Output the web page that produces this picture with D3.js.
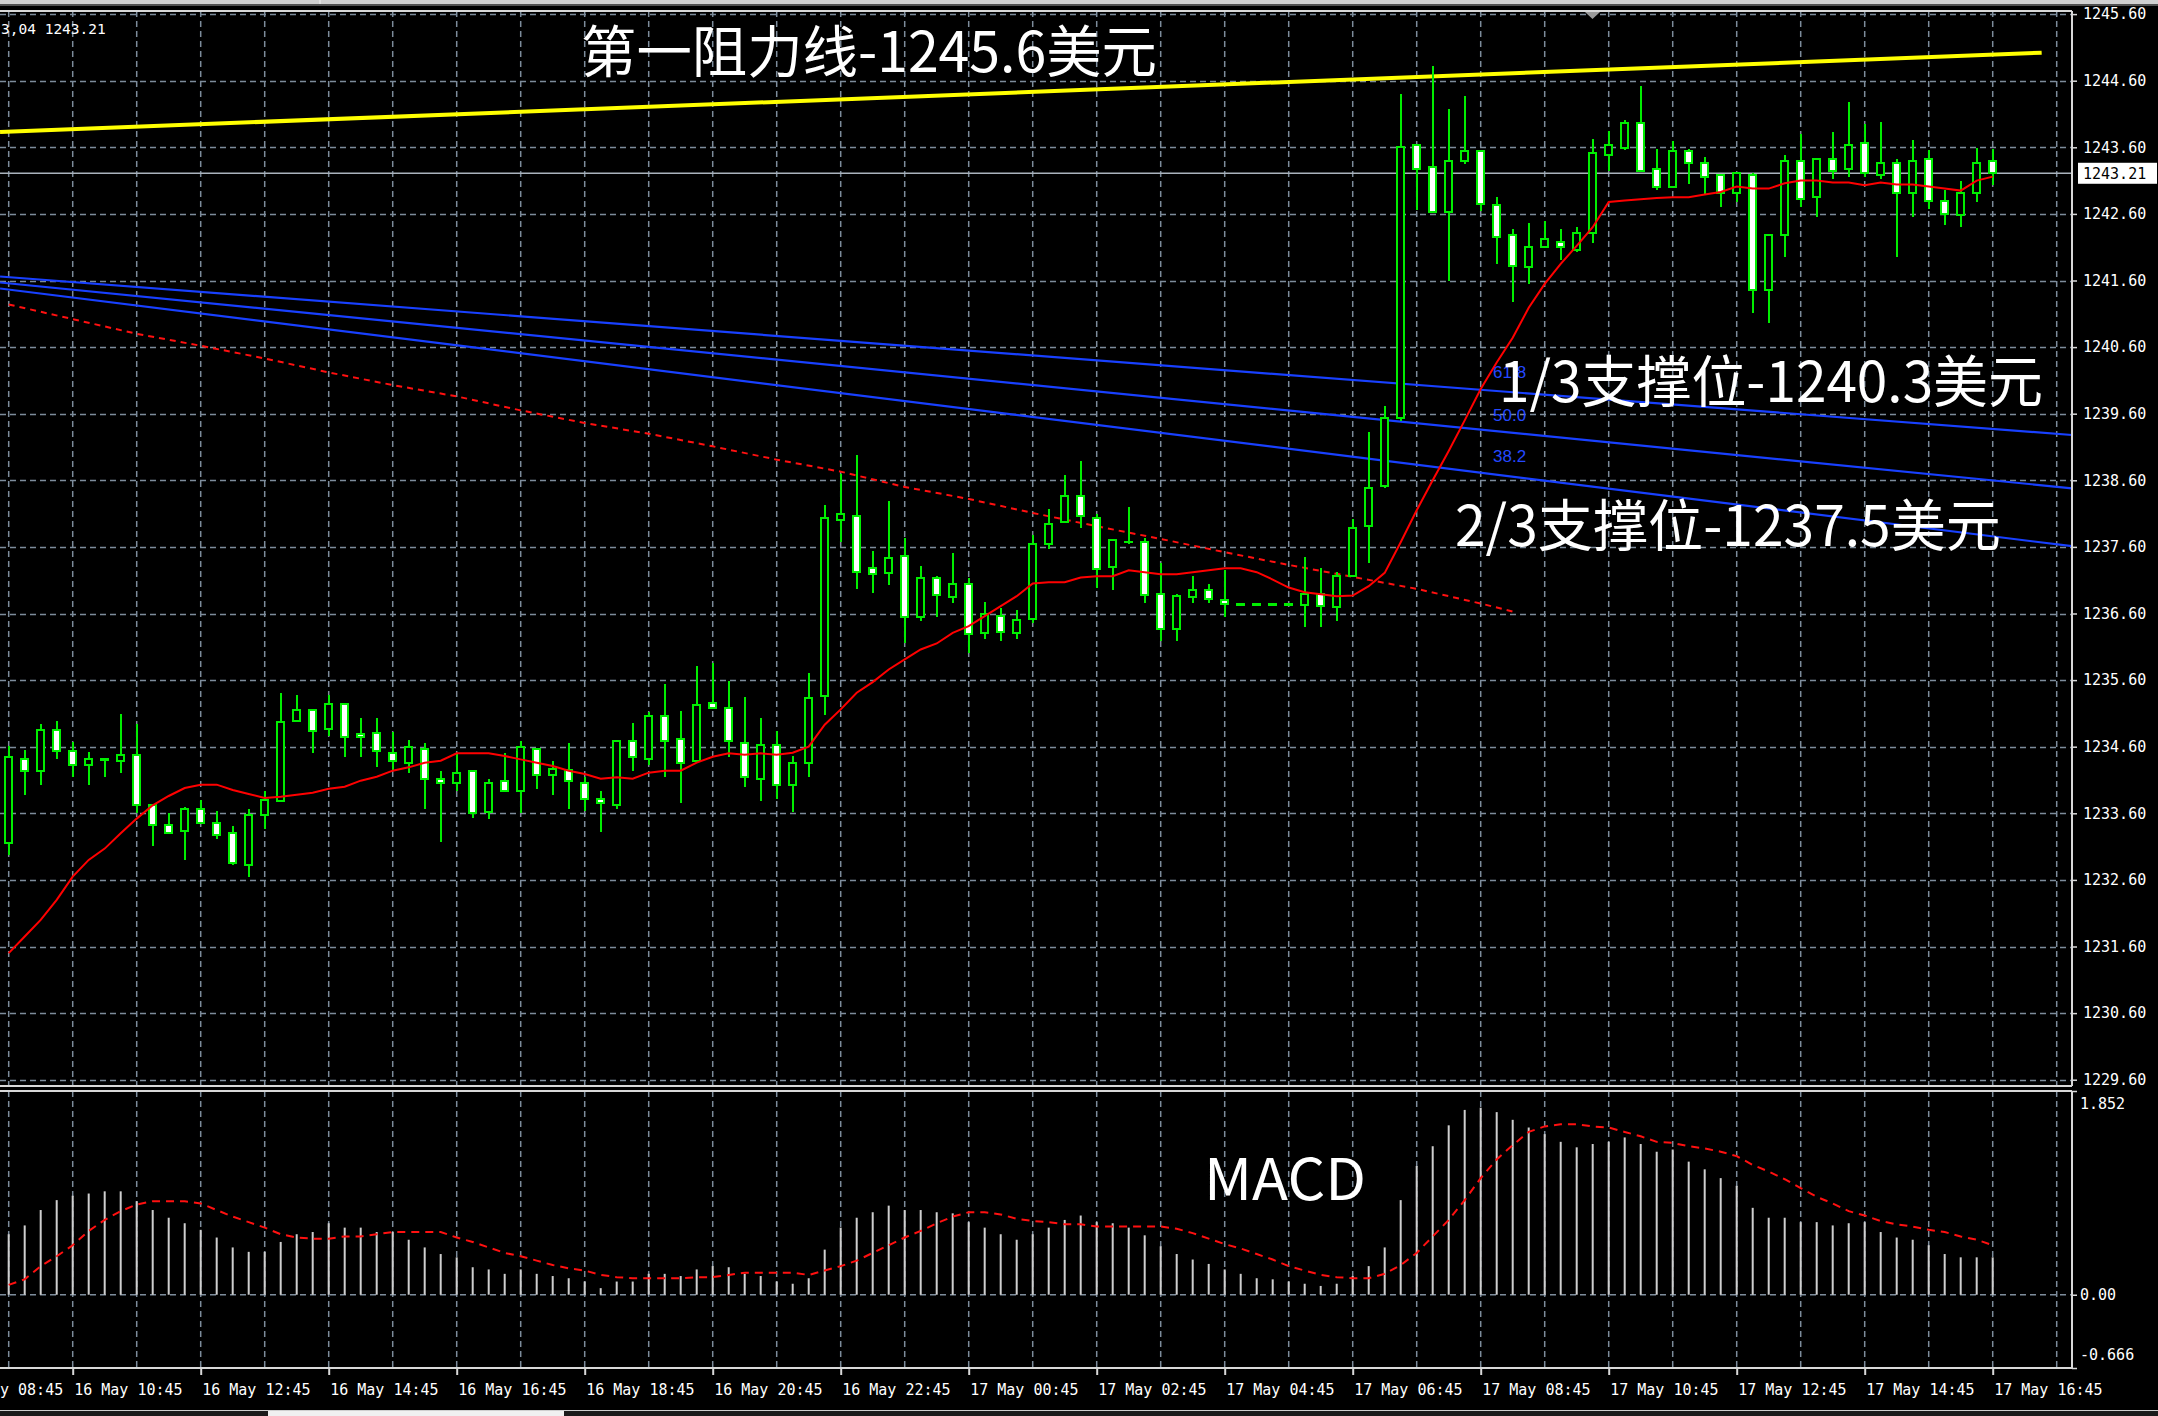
<!DOCTYPE html>
<html><head><meta charset="utf-8">
<script src="https://cdn.jsdelivr.net/npm/d3@7"></script>
<style>
html,body{margin:0;padding:0;background:#000;overflow:hidden;}
svg{display:block;}
</style></head><body>
<svg id="chart" width="2158" height="1416"></svg>
<script>
// ---------- DATA (15-minute bars, 16 May 09:45 .. 17 May 16:45) ----------
const open = [1233.16,1234.42,1234.24,1234.85,1234.54,1234.33,1234.42,1234.39,1234.48,1233.72,
1233.43,1233.33,1233.67,1233.46,1233.30,1232.82,1233.57,1233.78,1234.98,1235.15,
1234.86,1235.24,1234.79,1234.81,1234.51,1234.35,1234.57,1234.11,1234.06,1234.23,
1233.62,1234.08,1233.94,1234.56,1234.18,1234.25,1234.06,1233.81,1233.72,1234.69,
1234.41,1235.06,1234.71,1234.38,1235.26,1235.18,1234.65,1234.11,1234.63,1234.03,
1234.36,1235.36,1238.00,1238.07,1237.28,1237.21,1237.46,1236.55,1237.14,1236.85,
1237.04,1236.31,1236.56,1236.31,1236.52,1237.64,1237.97,1238.37,1238.04,1237.30,
1237.67,1237.68,1236.89,1236.37,1236.85,1236.95,1236.80,1236.74,1236.74,1236.74,
1236.74,1236.73,1236.89,1236.70,1237.16,1237.91,1238.52,1239.54,1243.63,1243.30,
1242.63,1243.39,1243.54,1242.73,1242.28,1241.80,1242.11,1242.18,1242.06,1242.31,
1243.48,1243.59,1243.97,1243.28,1243.00,1243.54,1243.36,1243.18,1242.92,1243.19,
1241.45,1242.28,1243.40,1242.86,1243.43,1243.27,1243.67,1243.19,1243.36,1242.92,
1243.42,1242.80,1242.58,1242.92,1243.40];
const high = [1234.61,1234.55,1234.94,1234.98,1234.67,1234.52,1234.42,1235.09,1234.94,1233.73,
1233.61,1233.70,1233.80,1233.64,1233.41,1233.67,1233.94,1235.40,1235.37,1235.15,
1235.37,1235.24,1235.03,1235.03,1234.82,1234.70,1234.66,1234.24,1234.50,1234.24,
1234.12,1234.51,1234.69,1234.56,1234.39,1234.66,1234.15,1233.94,1234.69,1234.96,
1235.12,1235.54,1235.14,1235.81,1235.86,1235.58,1235.34,1235.03,1234.83,1234.46,
1235.70,1238.23,1238.70,1238.98,1237.54,1238.29,1237.73,1237.32,1237.17,1237.51,
1237.14,1236.78,1236.69,1236.66,1237.78,1238.17,1238.68,1238.89,1238.09,1237.71,
1238.20,1237.73,1237.36,1236.90,1237.17,1237.05,1237.26,1236.74,1236.74,1236.74,
1236.74,1237.45,1237.29,1237.22,1238.02,1239.33,1239.71,1244.40,1243.64,1244.82,
1244.18,1244.37,1243.55,1242.86,1242.37,1242.47,1242.50,1242.37,1242.41,1243.73,
1243.84,1244.01,1244.52,1243.57,1243.70,1243.57,1243.45,1243.18,1243.22,1243.21,
1242.29,1243.49,1243.80,1243.43,1243.83,1244.28,1243.95,1243.98,1243.43,1243.71,
1243.56,1242.96,1243.10,1243.59,1243.58];
const low = [1232.97,1233.88,1234.02,1234.41,1234.14,1234.02,1234.14,1234.20,1233.60,1233.11,
1233.30,1232.90,1233.44,1233.21,1232.82,1232.64,1233.37,1233.78,1234.98,1234.50,
1234.76,1234.44,1234.44,1234.29,1234.25,1234.20,1233.66,1233.17,1233.93,1233.53,
1233.51,1233.94,1233.60,1233.96,1233.87,1233.66,1233.64,1233.32,1233.66,1234.23,
1234.33,1234.14,1233.75,1234.36,1235.18,1234.44,1233.99,1233.78,1233.81,1233.62,
1234.14,1235.07,1237.67,1236.97,1236.91,1237.03,1236.16,1236.49,1236.55,1236.76,
1236.01,1236.22,1236.19,1236.22,1236.45,1237.57,1237.97,1237.88,1236.99,1236.96,
1237.64,1236.76,1236.19,1236.19,1236.76,1236.76,1236.55,1236.74,1236.74,1236.74,
1236.74,1236.40,1236.40,1236.49,1237.15,1237.36,1238.48,1239.49,1242.66,1242.62,
1241.59,1243.35,1242.65,1241.85,1241.27,1241.55,1242.09,1241.91,1242.03,1242.17,
1243.24,1243.56,1243.24,1242.96,1242.99,1243.05,1242.90,1242.70,1242.78,1241.11,
1240.96,1241.95,1242.70,1242.55,1243.12,1243.15,1243.15,1243.12,1241.95,1242.55,
1242.67,1242.43,1242.40,1242.78,1243.04];
const close = [1234.45,1234.24,1234.85,1234.54,1234.33,1234.42,1234.40,1234.48,1233.72,1233.43,
1233.31,1233.67,1233.45,1233.27,1232.86,1233.58,1233.80,1234.97,1235.15,1234.84,
1235.24,1234.74,1234.75,1234.54,1234.39,1234.60,1234.12,1234.06,1234.21,1233.61,
1234.06,1233.94,1234.60,1234.18,1234.27,1234.09,1233.82,1233.76,1234.69,1234.45,
1235.06,1234.69,1234.36,1235.23,1235.18,1234.69,1234.14,1234.63,1234.03,1234.36,
1235.33,1238.03,1238.10,1237.23,1237.19,1237.44,1236.55,1237.14,1236.88,1237.05,
1236.29,1236.59,1236.32,1236.50,1237.65,1237.95,1238.37,1238.06,1237.27,1237.71,
1237.68,1236.88,1236.37,1236.86,1236.95,1236.82,1236.74,1236.74,1236.74,1236.74,
1236.74,1236.89,1236.71,1237.16,1237.89,1238.49,1239.54,1243.60,1243.28,1242.63,
1243.39,1243.55,1242.75,1242.25,1241.82,1242.10,1242.22,1242.10,1242.31,1243.51,
1243.63,1243.97,1243.24,1243.00,1243.54,1243.37,1243.15,1242.92,1243.21,1241.45,
1242.29,1243.40,1242.82,1243.43,1243.25,1243.63,1243.22,1243.37,1242.92,1243.40,
1242.80,1242.60,1242.92,1243.36,1243.21];
// short moving average (solid red)
const maShort = [1231.50,1231.75,1232.00,1232.30,1232.65,1232.90,1233.07,1233.30,1233.52,1233.72,
1233.86,1233.98,1234.03,1234.03,1233.95,1233.89,1233.83,1233.85,1233.88,1233.91,
1233.97,1234.00,1234.09,1234.15,1234.24,1234.29,1234.36,1234.39,1234.50,1234.50,
1234.50,1234.46,1234.41,1234.36,1234.31,1234.24,1234.19,1234.12,1234.14,1234.12,
1234.21,1234.24,1234.24,1234.36,1234.45,1234.50,1234.48,1234.50,1234.48,1234.51,
1234.60,1234.93,1235.16,1235.41,1235.57,1235.76,1235.91,1236.06,1236.15,1236.31,
1236.41,1236.56,1236.71,1236.86,1237.05,1237.07,1237.07,1237.14,1237.16,1237.16,
1237.25,1237.22,1237.19,1237.19,1237.22,1237.25,1237.28,1237.28,1237.22,1237.11,
1236.99,1236.92,1236.89,1236.86,1236.87,1237.01,1237.21,1237.67,1238.15,1238.60,
1239.04,1239.50,1239.97,1240.37,1240.74,1241.19,1241.55,1241.85,1242.12,1242.40,
1242.78,1242.80,1242.82,1242.84,1242.85,1242.85,1242.89,1242.93,1243.01,1242.98,
1242.98,1243.06,1243.10,1243.10,1243.07,1243.07,1243.03,1243.07,1243.04,1243.04,
1243.01,1242.98,1242.95,1243.10,1243.16];
// long moving average (dashed red), read at hourly bars
const maLongIdx = [0,4,8,12,16,20,24,28,32,36,40,44,48,52,56,60,64,68,72,76,80,84,88,92,94];
const maLongVal = [1241.24,1241.02,1240.80,1240.62,1240.43,1240.22,1240.03,1239.86,1239.65,1239.46,
1239.30,1239.11,1238.91,1238.73,1238.50,1238.32,1238.11,1237.91,1237.72,1237.52,
1237.33,1237.15,1236.97,1236.75,1236.63];
// MACD histogram and signal
const macdHist = [0.55,0.63,0.77,0.86,0.90,0.92,0.94,0.94,0.85,0.77,
0.70,0.65,0.59,0.52,0.43,0.39,0.39,0.48,0.55,0.57,
0.65,0.61,0.61,0.57,0.57,0.50,0.43,0.37,0.34,0.25,
0.23,0.19,0.23,0.19,0.17,0.15,0.12,0.06,0.12,0.12,
0.19,0.19,0.17,0.23,0.26,0.25,0.19,0.17,0.12,0.10,
0.15,0.41,0.61,0.70,0.75,0.81,0.77,0.77,0.75,0.74,
0.66,0.61,0.55,0.50,0.55,0.61,0.68,0.72,0.66,0.65,
0.61,0.54,0.44,0.37,0.32,0.28,0.23,0.19,0.15,0.14,
0.12,0.10,0.08,0.10,0.17,0.26,0.43,0.86,1.17,1.35,
1.54,1.68,1.70,1.66,1.59,1.52,1.46,1.39,1.34,1.37,
1.39,1.43,1.37,1.30,1.32,1.21,1.14,1.06,0.99,0.79,
0.70,0.70,0.66,0.66,0.63,0.65,0.66,0.57,0.52,0.50,
0.45,0.37,0.34,0.34,0.34];
const macdSignal = [0.09,0.14,0.26,0.35,0.45,0.58,0.68,0.76,0.82,0.85,
0.85,0.85,0.83,0.77,0.71,0.66,0.61,0.55,0.52,0.51,
0.51,0.53,0.53,0.55,0.57,0.57,0.57,0.57,0.52,0.48,
0.43,0.38,0.35,0.31,0.27,0.24,0.22,0.18,0.16,0.15,
0.15,0.15,0.15,0.16,0.16,0.18,0.20,0.20,0.20,0.20,
0.18,0.22,0.26,0.31,0.38,0.45,0.52,0.58,0.65,0.71,
0.75,0.75,0.73,0.69,0.67,0.66,0.64,0.64,0.62,0.62,
0.62,0.62,0.62,0.60,0.56,0.51,0.46,0.42,0.37,0.32,
0.26,0.22,0.18,0.16,0.15,0.15,0.19,0.27,0.38,0.53,
0.68,0.86,1.06,1.23,1.36,1.48,1.53,1.55,1.55,1.53,
1.52,1.48,1.44,1.39,1.38,1.35,1.33,1.30,1.26,1.18,
1.12,1.05,0.97,0.89,0.83,0.76,0.72,0.67,0.64,0.62,
0.59,0.57,0.53,0.50,0.45];
// drawn objects (bar index, price)
const resistanceLine = [[-0.54,1243.83],[127.06,1245.02]];
const fanLabels = ["61.8","50.0","38.2"];
const fanStart = [1241.66,1241.57,1241.48];
const fanEnd = [1239.28,1238.48,1237.61];
const fanIdx = [-0.54,128.96];
const bidPrice = 1243.21;
// axis labels
const priceTickLabels = ["1245.60","1244.60","1243.60","1242.60","1241.60","1240.60","1239.60","1238.60",
"1237.60","1236.60","1235.60","1234.60","1233.60","1232.60","1231.60","1230.60","1229.60"];
const macdTickLabels = ["1.852","0.00","-0.666"];
const timeTickIdx = [4,12,20,28,36,44,52,60,68,76,84,92,100,108,116,124];
const timeLabels = ["16 May 10:45","16 May 12:45","16 May 14:45","16 May 16:45",
"16 May 18:45","16 May 20:45","16 May 22:45","17 May 00:45","17 May 02:45","17 May 04:45",
"17 May 06:45","17 May 08:45","17 May 10:45","17 May 12:45","17 May 14:45","17 May 16:45"];
const firstLabelVisible = "y 08:45";   // visible tail of the scrolled-off "16 May 08:45" label
const annotations = ["第一阻力线-1245.6美元","1/3支撑位-1240.3美元","2/3支撑位-1237.5美元"];

// ---------- LAYOUT ----------
const W = 2158, H = 1416;
const plotR = 2072, mainTop = 11, mainBot = 1086, macdTop = 1091, macdBot = 1368;
const GREEN = "#00ee00", GRID = "#7d8c9b", BORDER = "#d8d8d8";

const svg = d3.select("#chart");
svg.append("rect").attr("width", W).attr("height", H).attr("fill", "#000");

const x = d3.scaleLinear().domain([0, 124]).range([8.7, 1992.7]);
const y = d3.scaleLinear().domain([1229.6, 1245.6]).range([1079.7, 14.1]);
const ym = d3.scaleLinear().domain([-0.666, 1.852]).range([macdBot, macdTop]);

const defs = svg.append("defs");
defs.append("clipPath").attr("id", "clipMain").append("rect")
  .attr("x", 0).attr("y", mainTop).attr("width", plotR).attr("height", mainBot - mainTop);
defs.append("clipPath").attr("id", "clipMacd").append("rect")
  .attr("x", 0).attr("y", macdTop).attr("width", plotR).attr("height", macdBot - macdTop);

// window frame strips
svg.append("rect").attr("x", 0).attr("y", 0).attr("width", W).attr("height", 4).attr("fill", "#d0d0d0");
svg.append("rect").attr("x", 0).attr("y", 4).attr("width", W).attr("height", 2).attr("fill", "#505050");
svg.append("line").attr("x1", 320).attr("x2", 320).attr("y1", 0).attr("y2", 4).attr("stroke", "#f4f4f4");

const main = svg.append("g").attr("clip-path", "url(#clipMain)");
const macd = svg.append("g").attr("clip-path", "url(#clipMacd)");

// grid
const gridIdx = d3.range(0, 129, 4);
const priceVals = priceTickLabels.map(Number);
main.selectAll("line.hg").data(priceVals).join("line").attr("class", "hg")
  .attr("x1", 0).attr("x2", plotR).attr("y1", d => Math.round(y(d)) + 0.5).attr("y2", d => Math.round(y(d)) + 0.5)
  .attr("stroke", GRID).attr("stroke-width", 1.5).attr("stroke-dasharray", "6,4");
main.selectAll("line.vg").data(gridIdx).join("line").attr("class", "vg")
  .attr("x1", d => x(d)).attr("x2", d => x(d)).attr("y1", mainTop).attr("y2", mainBot)
  .attr("stroke", GRID).attr("stroke-width", 1.5).attr("stroke-dasharray", "6,4");
macd.selectAll("line.vg").data(gridIdx).join("line").attr("class", "vg")
  .attr("x1", d => x(d)).attr("x2", d => x(d)).attr("y1", macdTop).attr("y2", macdBot)
  .attr("stroke", GRID).attr("stroke-width", 1.5).attr("stroke-dasharray", "6,4");
macd.append("line").attr("x1", 0).attr("x2", plotR).attr("y1", ym(0)).attr("y2", ym(0))
  .attr("stroke", GRID).attr("stroke-width", 1.5).attr("stroke-dasharray", "6,4");

// bid line
main.append("line").attr("x1", 0).attr("x2", plotR).attr("y1", y(bidPrice)).attr("y2", y(bidPrice))
  .attr("stroke", "#aab3bd").attr("stroke-width", 1.3);

// long MA (dashed)
const lineIdx = d3.line().x(d => x(d[0])).y(d => y(d[1]));
main.append("path").datum(maLongIdx.map((d, i) => [d, maLongVal[i]]))
  .attr("d", lineIdx).attr("fill", "none").attr("stroke", "#ff1010").attr("stroke-width", 2)
  .attr("stroke-dasharray", "6,5");

// fibonacci fan lines
fanLabels.forEach((lab, k) => {
  main.append("path").datum([[fanIdx[0], fanStart[k]], [fanIdx[1], fanEnd[k]]])
    .attr("d", lineIdx).attr("fill", "none").attr("stroke", "#1840ff").attr("stroke-width", 2.2);
});

// resistance line (yellow)
main.append("path").datum(resistanceLine).attr("d", lineIdx)
  .attr("fill", "none").attr("stroke", "#ffff00").attr("stroke-width", 4);

// candles
const idx = open.map((d, i) => i);
const cg = main.append("g").attr("shape-rendering", "crispEdges");
cg.selectAll("line.wick").data(idx).join("line").attr("class", "wick")
  .attr("x1", i => x(i)).attr("x2", i => x(i)).attr("y1", i => y(high[i])).attr("y2", i => y(low[i]))
  .attr("stroke", GREEN).attr("stroke-width", 2);
cg.selectAll("rect.body").data(idx).join("rect").attr("class", "body")
  .attr("x", i => x(i) - 3.5).attr("width", 7)
  .attr("y", i => y(Math.max(open[i], close[i])))
  .attr("height", i => Math.max(0.5, Math.abs(y(open[i]) - y(close[i]))))
  .attr("fill", i => close[i] > open[i] ? "#000" : (close[i] < open[i] ? "#fff" : GREEN))
  .attr("stroke", GREEN).attr("stroke-width", 2);

// short MA
main.append("path").datum(maShort)
  .attr("d", d3.line().x((d, i) => x(i)).y(d => y(d)))
  .attr("fill", "none").attr("stroke", "#ff0000").attr("stroke-width", 2);

// MACD histogram & signal
macd.selectAll("line.hist").data(idx).join("line").attr("class", "hist")
  .attr("x1", i => x(i)).attr("x2", i => x(i)).attr("y1", ym(0)).attr("y2", i => ym(macdHist[i]))
  .attr("stroke", "#cfcfcf").attr("stroke-width", 2);
macd.append("path").datum(macdSignal)
  .attr("d", d3.line().x((d, i) => x(i)).y(d => ym(d)))
  .attr("fill", "none").attr("stroke", "#ff1010").attr("stroke-width", 2).attr("stroke-dasharray", "8,6");

// fan labels
const fanLabelY = [378, 421, 462];
fanLabels.forEach((lab, k) => {
  svg.append("text").attr("x", 1493).attr("y", fanLabelY[k]).text(lab)
    .attr("fill", "#2448ff").attr("font-family", "Liberation Sans, Arial, sans-serif").attr("font-size", 17);
});

// borders
const bd = svg.append("g").attr("stroke", BORDER).attr("stroke-width", 2).attr("fill", "none");
bd.append("line").attr("x1", 0).attr("x2", plotR).attr("y1", mainTop).attr("y2", mainTop);
bd.append("line").attr("x1", 0).attr("x2", plotR).attr("y1", mainBot).attr("y2", mainBot);
bd.append("line").attr("x1", 0).attr("x2", plotR).attr("y1", macdTop).attr("y2", macdTop);
bd.append("line").attr("x1", 0).attr("x2", plotR).attr("y1", macdBot).attr("y2", macdBot);
bd.append("line").attr("x1", plotR).attr("x2", plotR).attr("y1", mainTop).attr("y2", mainBot);
bd.append("line").attr("x1", plotR).attr("x2", plotR).attr("y1", macdTop).attr("y2", macdBot);

// shift marker
svg.append("path").attr("d", "M1585,12 L1600,12 L1592.5,19 Z").attr("fill", "#9a9a9a");

// price axis
const axisFont = "DejaVu Sans Mono, monospace";
const pAxis = svg.append("g").attr("transform", `translate(${plotR},0)`)
  .call(d3.axisRight(y).tickValues(priceVals).tickFormat((d, i) => priceTickLabels[i]).tickSize(5).tickPadding(6));
pAxis.select(".domain").remove();
pAxis.selectAll(".tick line").attr("stroke", BORDER).attr("stroke-width", 1.5);
pAxis.selectAll("text").attr("fill", "#fff").attr("font-family", axisFont).attr("font-size", 15);

// bid price label
svg.append("rect").attr("x", 2078).attr("y", y(bidPrice) - 10.5).attr("width", 79).attr("height", 21)
  .attr("fill", "#fff");
svg.append("text").attr("x", 2083).attr("y", y(bidPrice)).attr("dy", "0.35em").text(bidPrice.toFixed(2))
  .attr("fill", "#000").attr("font-family", axisFont).attr("font-size", 15);

// MACD axis
const macdVals = macdTickLabels.map(Number);
const mAxis = svg.append("g").attr("transform", `translate(${plotR},0)`)
  .call(d3.axisRight(ym).tickValues(macdVals).tickFormat((d, i) => macdTickLabels[i]).tickSize(5).tickPadding(3));
mAxis.select(".domain").remove();
mAxis.selectAll(".tick line").attr("stroke", BORDER).attr("stroke-width", 1.5);
mAxis.selectAll("text").attr("fill", "#fff").attr("font-family", axisFont).attr("font-size", 15)
  .attr("y", (d, i) => i === 0 ? 13 : (i === 2 ? -13 : 0));

// time axis
const tAxis = svg.append("g").attr("transform", `translate(0,${macdBot})`)
  .call(d3.axisBottom(x).tickValues(timeTickIdx).tickFormat((d, i) => timeLabels[i]).tickSize(7).tickPadding(3));
tAxis.select(".domain").remove();
tAxis.selectAll(".tick line").attr("stroke", BORDER).attr("stroke-width", 2);
tAxis.selectAll("text").attr("fill", "#fff").attr("font-family", axisFont).attr("font-size", 15)
  .attr("text-anchor", "start").attr("x", 1).attr("dy", null).attr("y", 27);
svg.append("text").attr("x", 0).attr("y", macdBot + 27).text(firstLabelVisible)
  .attr("fill", "#fff").attr("font-family", axisFont).attr("font-size", 15);

// bottom frame
svg.append("rect").attr("x", 0).attr("y", 1410).attr("width", W).attr("height", 6).attr("fill", "#1a1a1a");
svg.append("line").attr("x1", 0).attr("x2", W).attr("y1", 1410.5).attr("y2", 1410.5).attr("stroke", "#cfcfcf");
svg.append("rect").attr("x", 268).attr("y", 1411).attr("width", 296).attr("height", 5).attr("fill", "#f0f0f0");

// top-left info text
svg.append("text").attr("x", 1).attr("y", 34).text("3,04 1243.21")
  .attr("fill", "#fff").attr("font-family", axisFont).attr("font-size", 14.5);

// annotations
const cjk = "Noto Sans CJK SC, sans-serif";
const annoPos = [[581, 72, 576], [1499, 402, 544], [1455, 546, 546]];
annotations.forEach((t, k) => {
  svg.append("text").attr("x", annoPos[k][0]).attr("y", annoPos[k][1]).text(t)
    .attr("textLength", annoPos[k][2]).attr("lengthAdjust", "spacingAndGlyphs")
    .attr("fill", "#fff").attr("font-family", cjk).attr("font-size", 56);
});
svg.append("text").attr("x", 1204).attr("y", 1200).text("MACD")
  .attr("textLength", 162).attr("lengthAdjust", "spacingAndGlyphs")
  .attr("fill", "#fff").attr("font-family", cjk).attr("font-size", 57);
</script>
</body></html>
